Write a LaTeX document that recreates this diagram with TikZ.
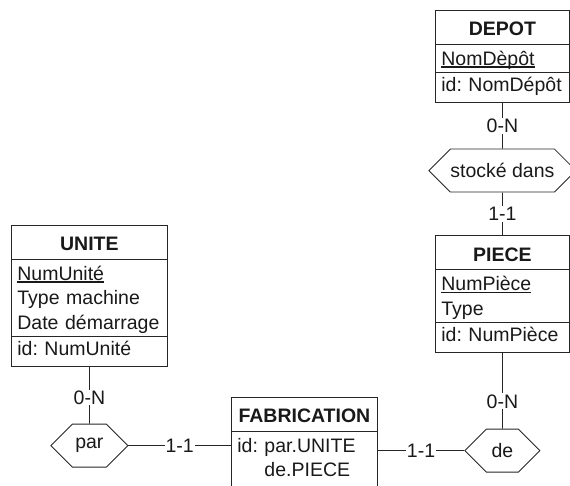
\documentclass[tikz,border=0pt]{standalone}
\usepackage{fontspec}
\setmainfont{Liberation Sans}
\usetikzlibrary{positioning,shapes.multipart,shapes.symbols}
% underlined key attribute
\newcommand\pkey[1]{\setbox0\hbox{#1}\rlap{\rule[-2.5pt]{\wd0}{1.2pt}}#1}
% entity name, centred in its row
\newcommand\ename[1]{\hfill\textbf{#1}\hfill\null}
% row struts: title, attribute line, id, last line running off
\newcommand\hstr{\rule[-6.5pt]{0pt}{30pt}}
\newcommand\astr{\rule[-5.5pt]{0pt}{24.5pt}}
\newcommand\istr{\rule[-8.5pt]{0pt}{26pt}}
\newcommand\lstr{\rule[-14pt]{0pt}{19pt}}
\tikzset{
  every node/.style={font=\fontsize{19.5}{24.5}\selectfont\frenchspacing,text=black!90},
  entity/.style={draw=black!85,line width=0.8pt,rectangle split,
                 rectangle split parts=3,align=left,inner xsep=6pt,
                 inner ysep=1.5pt,anchor=north west},
  assoc/.style={draw=black!85,line width=0.8pt,signal,signal to=east and west,
                minimum height=43pt,inner xsep=0pt,inner ysep=0pt},
  card/.style={fill=white,inner sep=1pt},
  link/.style={draw=black!85,line width=0.8pt},
}
\begin{document}
\begin{tikzpicture}[x=1pt,y=-1pt]
  \useasboundingbox (0,0) rectangle (570,486);
  % right column
  \node[entity,text width=122pt] (depot) at (435,10)
    {\hstr\ename{DEPOT}
     \nodepart{two}\astr\pkey{NomDèpôt}
     \nodepart{three}\istr id: NomDépôt};
  \node[assoc,minimum width=144pt,below=46pt of depot] (stocke) {stocké dans};
  \node[entity,text width=122pt,below=43pt of stocke] (piece)
    {\hstr\ename{PIECE}
     \nodepart{two}\astr\pkey{NumPièce}\\\astr Type
     \nodepart{three}\istr id: NumPièce};
  \node[assoc,minimum width=75pt,below=76pt of piece] (de) {de};
  % left column
  \node[entity,text width=144pt] (unite) at (11,225)
    {\hstr\ename{UNITE}
     \nodepart{two}\astr\pkey{NumUnité}\\\astr Type machine\\\astr Date démarrage
     \nodepart{three}\istr id: NumUnité};
  \node[assoc,minimum width=77pt,below=57pt of unite] (par) {par};
  % bottom
  \node[entity,rectangle split parts=2,text width=134pt] (fab) at (231,397)
    {\hstr\ename{FABRICATION}
     \nodepart{two}\astr id: par.UNITE\\\lstr\phantom{id: }de.PIECE};
  % roles
  \draw[link] (depot) -- node[card]{0-N} (stocke);
  \draw[link] (stocke) -- node[card]{1-1} (piece);
  \draw[link] (piece) -- node[card,pos=.64]{0-N} (de);
  \draw[link] (unite) -- node[card,pos=.54]{0-N} (par);
  \draw[link] (par.east) -- node[card]{1-1} (par.east -| fab.west);
  \draw[link] (de.west) -- node[card]{1-1} (de.west -| fab.east);
\end{tikzpicture}
\end{document}
